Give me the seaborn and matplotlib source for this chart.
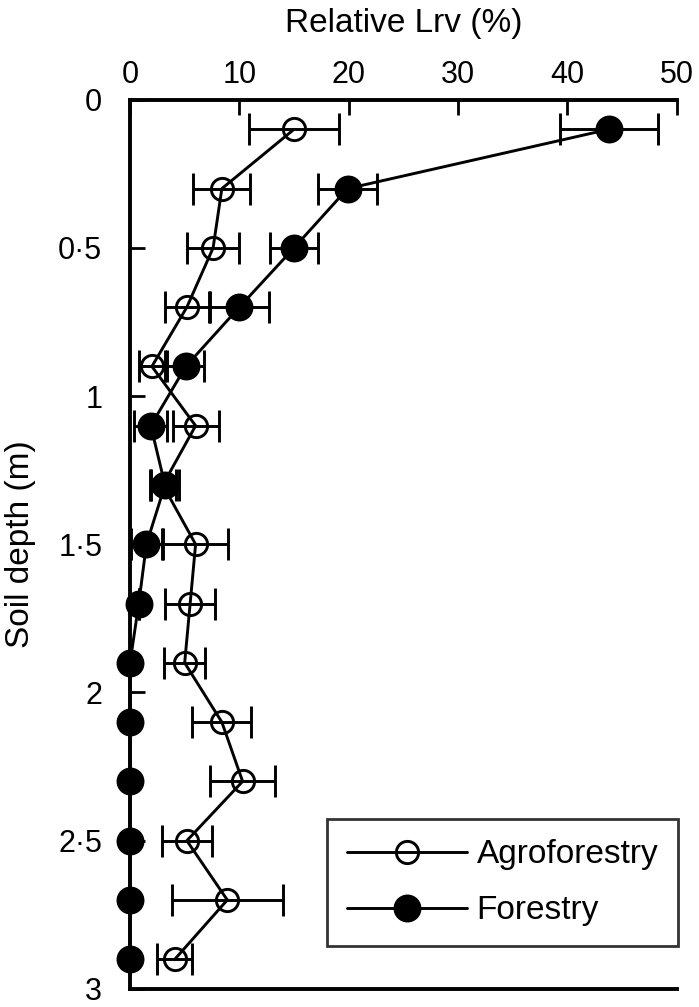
import matplotlib
matplotlib.use("Agg")
import matplotlib.pyplot as plt
import seaborn as sns

# depth of each sampling layer (m)
depth = [0.1, 0.3, 0.5, 0.7, 0.9, 1.1, 1.3, 1.5, 1.7, 1.9, 2.1, 2.3, 2.5, 2.7, 2.9]

# relative root length density (%), mean and error
agro_mean = [15.0, 8.4, 7.6, 5.2, 2.0, 6.0, 3.0, 6.0, 5.5, 5.0, 8.4, 10.3, 5.2, 8.9, 4.1]
agro_err = [4.1, 2.6, 2.4, 2.0, 1.2, 2.1, 1.2, 3.0, 2.3, 1.9, 2.7, 3.0, 2.3, 5.1, 1.6]
forest_mean = [43.8, 19.9, 15.0, 10.0, 5.1, 1.9, 3.2, 1.5, 0.8, 0.0, 0.0, 0.0, 0.0, 0.0, 0.0]
forest_err = [4.5, 2.7, 2.2, 2.7, 1.7, 1.5, 1.3, 1.4, 0.0, 0.0, 0.0, 0.0, 0.0, 0.0, 0.0]

x_ticks = [0, 10, 20, 30, 40, 50]
y_ticks = [0, 0.5, 1, 1.5, 2, 2.5, 3]
y_tick_labels = ["0", "0·5", "1", "1·5", "2", "2·5", "3"]

sns.set_theme(style="white")
plt.rcParams["font.family"] = ["Liberation Sans", "DejaVu Sans"]
plt.rcParams["text.color"] = "black"

fig, ax = plt.subplots(figsize=(6.99, 10.07), dpi=100)
fig.subplots_adjust(left=0.186, right=0.968, top=0.901, bottom=0.018)

lw = 2.1
# Agroforestry - open circles
ax.errorbar(agro_mean, depth, xerr=agro_err, fmt="none", ecolor="black",
            elinewidth=lw, capsize=11.5, capthick=lw, clip_on=False, zorder=2)
sns.lineplot(x=agro_mean, y=depth, orient="y", sort=False, color="black", lw=lw,
             marker="o", ms=16, mfc="none", mec="black", mew=lw,
             clip_on=False, label="Agroforestry", ax=ax, zorder=3)

# Forestry - filled circles
ax.errorbar(forest_mean, depth, xerr=forest_err, fmt="none", ecolor="black",
            elinewidth=lw, capsize=11.5, capthick=lw, clip_on=False, zorder=4)
sns.lineplot(x=forest_mean, y=depth, orient="y", sort=False, color="black", lw=lw,
             marker="o", ms=18, mfc="black", mec="black", mew=lw,
             clip_on=False, label="Forestry", ax=ax, zorder=5)

ax.set_xlim(0, 50)
ax.set_ylim(3, 0)
ax.set_xticks(x_ticks)
ax.set_yticks(y_ticks, labels=y_tick_labels)

ax.xaxis.set_ticks_position("top")
ax.xaxis.set_label_position("top")
ax.tick_params(axis="x", direction="in", length=11, width=2.0, color="black",
               labelsize=22, pad=7, labelcolor="black")
ax.tick_params(axis="y", direction="in", length=11, width=2.0, color="black",
               labelsize=22, pad=20, labelcolor="black", left=True)

ax.set_xlabel("Relative Lrv (%)", fontsize=24, labelpad=20, color="black")
ax.set_ylabel("Soil depth (m)", fontsize=24, labelpad=16, color="black")

for side in ["top", "left", "bottom"]:
    ax.spines[side].set_color("black")
    ax.spines[side].set_linewidth(2.8)
ax.spines["right"].set_visible(False)

leg = ax.legend(loc="lower right", bbox_to_anchor=(1.003, 0.048), fontsize=24,
                frameon=True, fancybox=False, edgecolor="black",
                labelcolor="black", handlelength=3.6, handletextpad=0.3,
                borderpad=0.6, borderaxespad=0, labelspacing=0.75)
leg.get_frame().set_linewidth(2.0)

fig.savefig("out.png", dpi=100)
